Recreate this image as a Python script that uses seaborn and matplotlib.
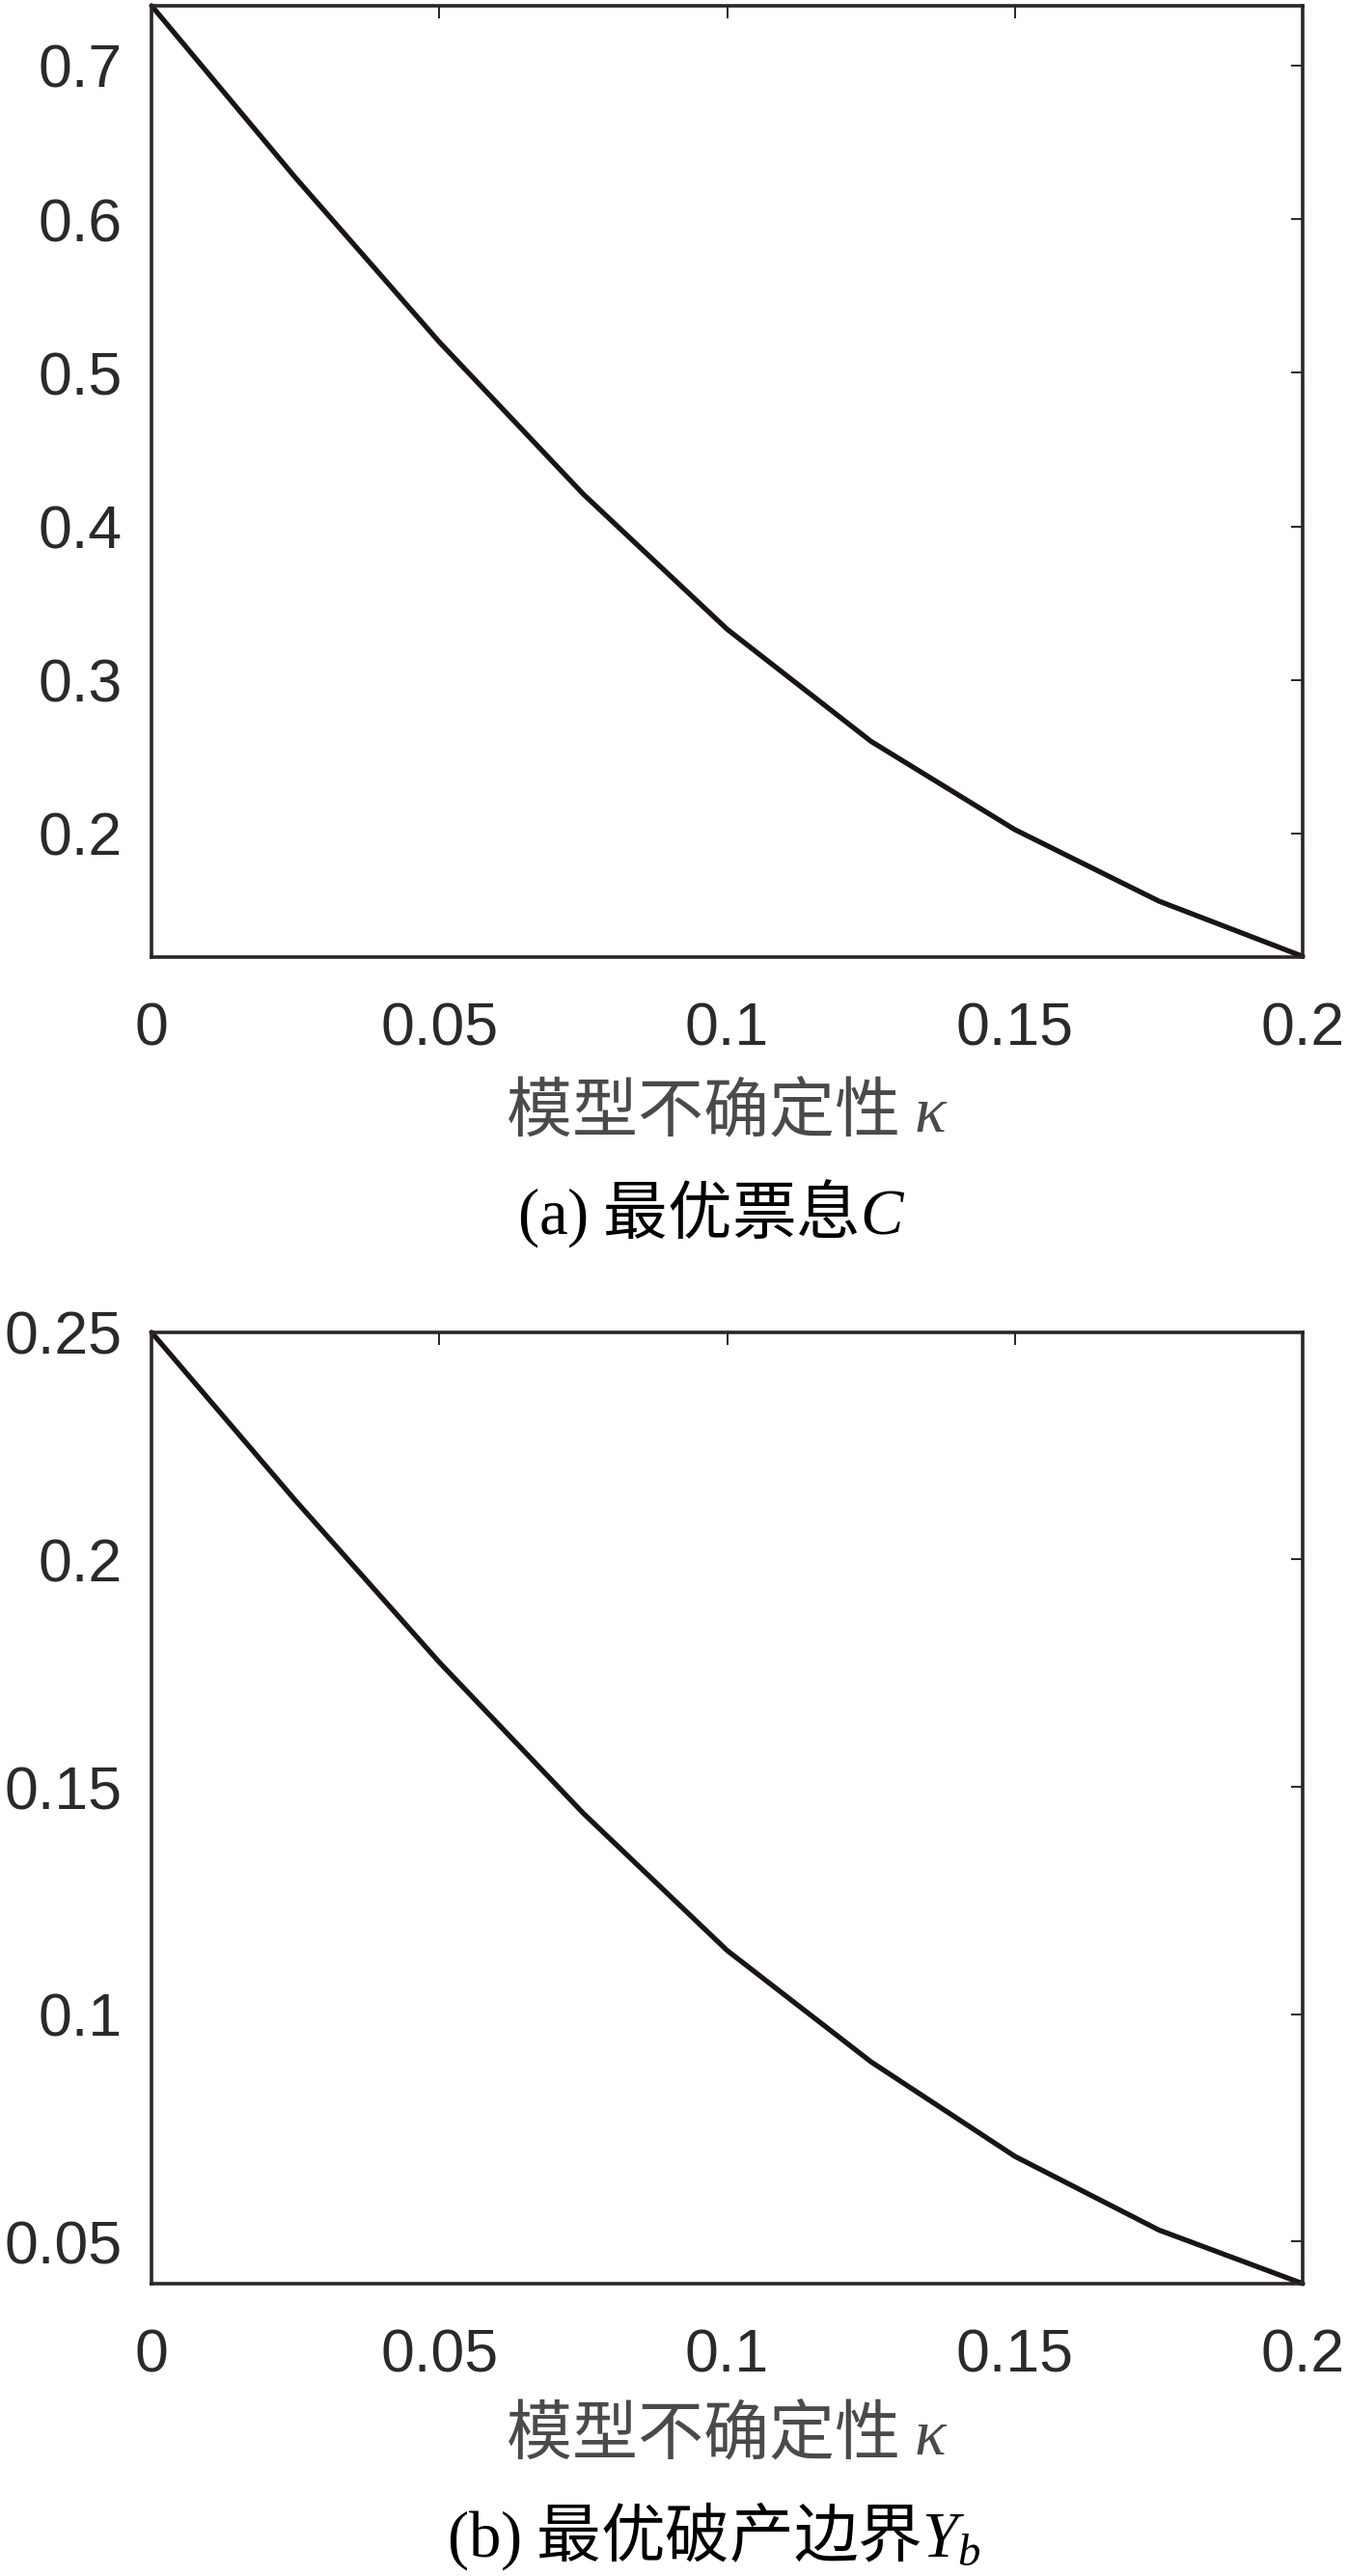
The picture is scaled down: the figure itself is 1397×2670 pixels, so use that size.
import seaborn as sns
import pandas as pd
import matplotlib.pyplot as plt

# values
kappa = [0, 0.025, 0.05, 0.075, 0.1, 0.125, 0.15, 0.175, 0.2]
coupon_C = [0.739, 0.627, 0.520, 0.421, 0.333, 0.260, 0.2025, 0.156, 0.120]
bankrupt_Yb = [0.250, 0.213, 0.1774, 0.1442, 0.1140, 0.0895, 0.0687, 0.0525, 0.0407]

x_ticks = [0, 0.05, 0.1, 0.15, 0.2]
x_ticklabels = ['0', '0.05', '0.1', '0.15', '0.2']
yticks_a = [0.2, 0.3, 0.4, 0.5, 0.6, 0.7]
yticklabels_a = ['0.2', '0.3', '0.4', '0.5', '0.6', '0.7']
yticks_b = [0.05, 0.1, 0.15, 0.2, 0.25]
yticklabels_b = ['0.05', '0.1', '0.15', '0.2', '0.25']

xlabel = '模型不确定性 $\\kappa$'
caption_a = '$\\mathrm{(a)}$ 最优票息$C$'
caption_b = '$\\mathrm{(b)}$ 最优破产边界$Y_b$'

sns.set_theme(style='white')
plt.rcParams['font.family'] = ['Noto Sans CJK SC', 'DejaVu Sans']
plt.rcParams['mathtext.fontset'] = 'custom'
plt.rcParams['mathtext.rm'] = 'Liberation Serif'
plt.rcParams['mathtext.it'] = 'Liberation Serif:italic'

df_a = pd.DataFrame({'kappa': kappa, 'value': coupon_C})
df_b = pd.DataFrame({'kappa': kappa, 'value': bankrupt_Yb})

fig = plt.figure(figsize=(13.97, 26.70), dpi=100)
ax1 = fig.add_axes([0.1124, 0.6285, 0.854, 0.3693])
ax2 = fig.add_axes([0.1124, 0.1135, 0.854, 0.3693])

edge = '#2b2523'
setup = [
    (ax1, df_a, yticks_a, yticklabels_a, (0.1196, 0.739), -0.165),
    (ax2, df_b, yticks_b, yticklabels_b, (0.0407, 0.25), -0.161),
]
for ax, df, yt, ytl, ylim, ly in setup:
    sns.lineplot(x='kappa', y='value', data=df, ax=ax, color='#1a1414',
                 linewidth=3.8, clip_on=False)
    ax.set_xlim(0, 0.2)
    ax.set_ylim(*ylim)
    ax.set_xticks(x_ticks, labels=x_ticklabels, fontfamily='Liberation Sans',
                  fontsize=45, color='#2a2a2a')
    ax.set_yticks(yt, labels=ytl, fontfamily='Liberation Sans',
                  fontsize=45, color='#2a2a2a')
    ax.tick_params(axis='both', direction='in', length=9, width=1.4,
                   color=edge, top=True, right=True)
    ax.tick_params(axis='x', pad=33)
    ax.tick_params(axis='y', pad=22)
    for s in ax.spines.values():
        s.set_color(edge)
        s.set_linewidth(2.6)
    ax.set_xlabel(xlabel, fontsize=49, color='#4a4a4a', va='center')
    ax.xaxis.set_label_coords(0.5, ly)
    ax.set_ylabel('')

fig.text(0.5276, 0.5292, caption_a, fontsize=48, color='black',
         ha='center', va='center')
fig.text(0.5297, 0.0157, caption_b, fontsize=48, color='black',
         ha='center', va='center')

fig.savefig('out.png', dpi=100, facecolor='white')
